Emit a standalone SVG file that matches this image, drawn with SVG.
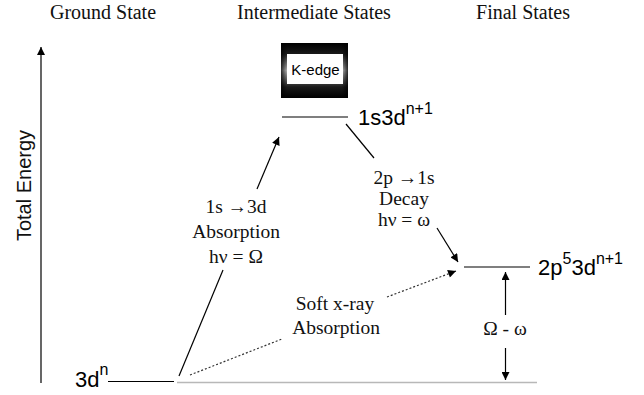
<svg xmlns="http://www.w3.org/2000/svg" width="644" height="395" viewBox="0 0 644 395">
  <style>
    .title { font-family: "Liberation Serif", "Times New Roman", serif; font-size: 20px; fill: #111; text-anchor: middle; }
    .note { font-family: "Liberation Serif", "Times New Roman", serif; font-size: 19.5px; fill: #111; text-anchor: middle; }
    .lab { font-family: "Liberation Sans", Arial, sans-serif; font-size: 22px; fill: #000; }
    .sup { font-size: 16px; }
    .axis { font-family: "Liberation Sans", Arial, sans-serif; font-size: 20px; fill: #111; text-anchor: middle; }
    .lvl { stroke: #000; stroke-width: 1.2; fill: none; }
    .con { stroke: #000; stroke-width: 1.2; fill: none; }
    .dot { stroke: #333; stroke-width: 1.2; stroke-dasharray: 2 2; fill: none; }
  </style>
  <defs>
    <marker id="ah" viewBox="0 0 10 10" refX="10" refY="5" markerWidth="9" markerHeight="8" markerUnits="userSpaceOnUse" orient="auto">
      <path d="M0,0 L10,5 L0,10 z" fill="#000"/>
    </marker>
    <linearGradient id="frame" x1="0" y1="0" x2="0" y2="1">
      <stop offset="0" stop-color="#000"/>
      <stop offset="0.2" stop-color="#1a1a1a"/>
      <stop offset="0.5" stop-color="#b0b0b0"/>
      <stop offset="0.8" stop-color="#1a1a1a"/>
      <stop offset="1" stop-color="#000"/>
    </linearGradient>
    <linearGradient id="frameH" x1="0" y1="0" x2="1" y2="0">
      <stop offset="0" stop-color="#000" stop-opacity="0.75"/>
      <stop offset="0.09" stop-color="#000" stop-opacity="0"/>
      <stop offset="0.91" stop-color="#000" stop-opacity="0"/>
      <stop offset="1" stop-color="#000" stop-opacity="0.75"/>
    </linearGradient>
  </defs>

  <g id="titles">
    <text class="title" x="103" y="19">Ground State</text>
    <text class="title" x="314" y="19">Intermediate States</text>
    <text class="title" x="523" y="19">Final States</text>
  </g>

  <g id="axis">
    <line class="con" x1="41" y1="383" x2="41" y2="47" marker-end="url(#ah)"/>
    <text class="axis" transform="translate(31,185.5) rotate(-90)">Total Energy</text>
  </g>

  <g id="ground">
    <text class="lab" x="75" y="387">3d<tspan class="sup" dy="-12">n</tspan></text>
    <line class="lvl" x1="108" y1="381.5" x2="174" y2="381.5"/>
    <line x1="177" y1="382.5" x2="537" y2="382.5" stroke="#b8b8b8" stroke-width="1.5"/>
  </g>

  <g id="kedge">
    <rect x="281" y="43" width="67" height="55" fill="url(#frame)"/>
    <rect x="281" y="43" width="67" height="55" fill="url(#frameH)"/>
    <rect x="287" y="54" width="56" height="30" fill="#fff"/>
    <text x="315.5" y="75" font-family="Liberation Sans, Arial, sans-serif" font-size="15" text-anchor="middle" fill="#000">K-edge</text>
  </g>

  <g id="intermediate">
    <line class="lvl" x1="282" y1="117" x2="348" y2="117"/>
    <text class="lab" x="358" y="125">1s3d<tspan class="sup" dy="-11">n+1</tspan></text>
  </g>

  <g id="final">
    <line class="lvl" x1="464" y1="267" x2="530" y2="267"/>
    <text class="lab" x="538" y="275">2p<tspan class="sup" dy="-11">5</tspan><tspan dy="11">3d</tspan><tspan class="sup" dy="-11">n+1</tspan></text>
  </g>

  <g id="connectors">
    <line class="con" x1="179" y1="376" x2="223" y2="270"/>
    <line class="con" x1="257" y1="189" x2="279" y2="137" marker-end="url(#ah)"/>
    <line class="con" x1="346" y1="124" x2="374" y2="158"/>
    <line class="con" x1="437" y1="228" x2="458" y2="262" marker-end="url(#ah)"/>
    <line class="dot" x1="190" y1="375" x2="282" y2="339"/>
    <line class="dot" x1="387" y1="297" x2="456" y2="271" marker-end="url(#ah)"/>
    <line class="con" x1="505.5" y1="315" x2="505.5" y2="272" marker-end="url(#ah)"/>
    <line class="con" x1="505.5" y1="348" x2="505.5" y2="380" marker-end="url(#ah)"/>
  </g>

  <g id="labels">
    <text class="note" x="236" y="213">1s →3d</text>
    <text class="note" x="236" y="238">Absorption</text>
    <text class="note" x="236" y="263">hν = Ω</text>
    <text class="note" x="404" y="184">2p →1s</text>
    <text class="note" x="404" y="205">Decay</text>
    <text class="note" x="404" y="226">hν = ω</text>
    <text class="note" x="335" y="310">Soft x-ray</text>
    <text class="note" x="336" y="334">Absorption</text>
    <text class="note" x="505" y="335">Ω - ω</text>
  </g>
</svg>
